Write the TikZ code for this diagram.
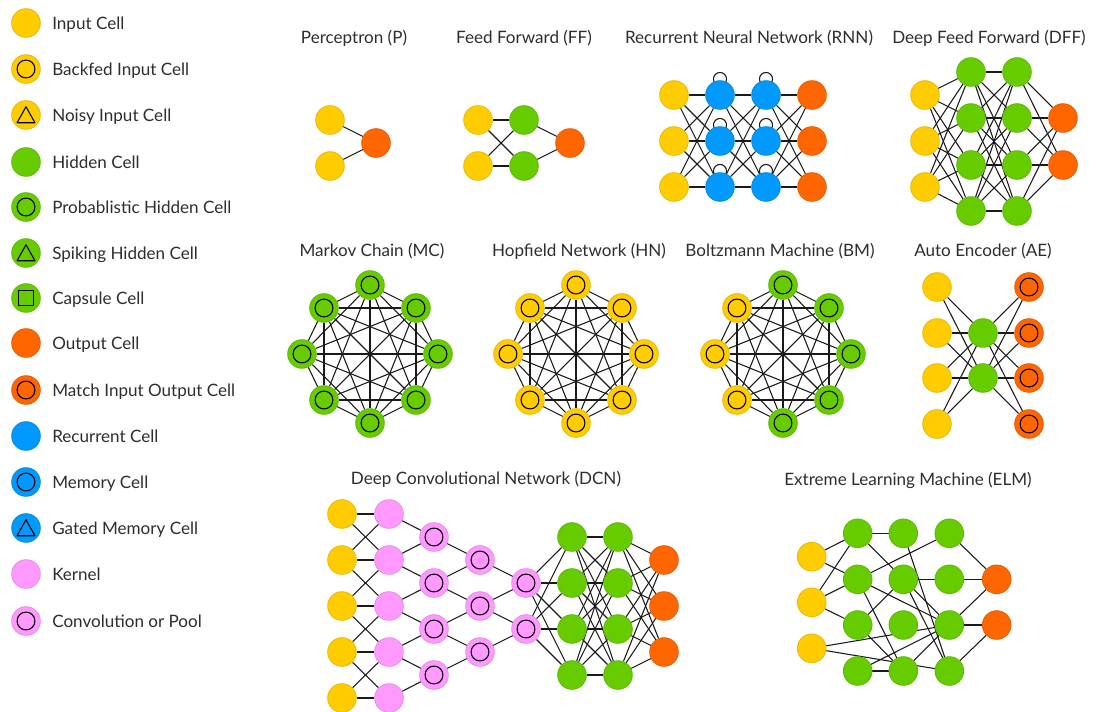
\documentclass[tikz,border=0pt]{standalone}
\usepackage{fontspec}
\setmainfont{Lato}
\usetikzlibrary{backgrounds}
\definecolor{cyel}{HTML}{FFCC00}
\definecolor{cyelD}{HTML}{E8BA00}
\definecolor{cgrn}{HTML}{66CC00}
\definecolor{cgrnD}{HTML}{5DBA00}
\definecolor{corg}{HTML}{FF6600}
\definecolor{corgD}{HTML}{E85D00}
\definecolor{cblu}{HTML}{0099FF}
\definecolor{cbluD}{HTML}{008BE8}
\definecolor{cpnk}{HTML}{FF99FF}
\definecolor{cpnkD}{HTML}{E88BE8}
\definecolor{ctxt}{HTML}{2E2E2E}
\definecolor{cline}{HTML}{1A1A1A}
\begin{document}
\begin{tikzpicture}[x=0.75pt,y=-0.75pt,
  cell/.style={circle,minimum size=21.5pt,inner sep=0pt,line width=0.6pt},
  ring/.style={path picture={\draw[black,line width=0.8pt] (path picture bounding box.center) circle[radius=6.7pt];}},
  tri/.style={path picture={\draw[black,line width=0.8pt,line join=round,shift={(path picture bounding box.center)}] (-6.7pt,-5.8pt) -- (6.7pt,-5.8pt) -- (0pt,6.2pt) -- cycle;}},
  sq/.style={path picture={\draw[black,line width=0.8pt,shift={(path picture bounding box.center)}] (-5.6pt,-5.6pt) rectangle (5.6pt,5.6pt);}},
  inc/.style={cell,fill=cyel,draw=cyelD},
  hid/.style={cell,fill=cgrn,draw=cgrnD},
  outc/.style={cell,fill=corg,draw=corgD},
  rec/.style={cell,fill=cblu,draw=cbluD},
  ker/.style={cell,fill=cpnk,draw=cpnkD},
  lbl/.style={anchor=base west,inner sep=0pt,text=ctxt,font=\fontsize{12.8}{15}\selectfont},
  ttl/.style={anchor=base,inner sep=0pt,text=ctxt,font=\fontsize{12.8}{15}\selectfont},
  conn/.style={draw=cline,line width=0.8pt}
]
\useasboundingbox (0,0) rectangle (1096,711);

% ---------------- legend ----------------
\node[inc] (lg1) at (26,23) {};
\node[lbl] (lt1) at (52,29.3) {Input Cell};
\node[inc,ring] (lg2) at (26,69) {};
\node[lbl] (lt2) at (52,75.3) {Backfed Input Cell};
\node[inc,tri] (lg3) at (26,115) {};
\node[lbl] (lt3) at (52,121.3) {Noisy Input Cell};
\node[hid] (lg4) at (26,162) {};
\node[lbl] (lt4) at (52,168.3) {Hidden Cell};
\node[hid,ring] (lg5) at (26,207) {};
\node[lbl] (lt5) at (52,213.3) {Probablistic Hidden Cell};
\node[hid,tri] (lg6) at (26,253) {};
\node[lbl] (lt6) at (52,259.3) {Spiking Hidden Cell};
\node[hid,sq] (lg7) at (26,298) {};
\node[lbl] (lt7) at (52,304.3) {Capsule Cell};
\node[outc] (lg8) at (26,343) {};
\node[lbl] (lt8) at (52,349.3) {Output Cell};
\node[outc,ring] (lg9) at (26,390) {};
\node[lbl] (lt9) at (52,396.3) {Match Input Output Cell};
\node[rec] (lg10) at (26,436) {};
\node[lbl] (lt10) at (52,442.3) {Recurrent Cell};
\node[rec,ring] (lg11) at (26,482) {};
\node[lbl] (lt11) at (52,488.3) {Memory Cell};
\node[rec,tri] (lg12) at (26,528) {};
\node[lbl] (lt12) at (52,534.3) {Gated Memory Cell};
\node[ker] (lg13) at (26,574) {};
\node[lbl] (lt13) at (52,580.3) {Kernel};
\node[ker,ring] (lg14) at (26,621) {};
\node[lbl] (lt14) at (52,627.3) {Convolution or Pool};

% ---------------- titles ----------------
\node[ttl] (tP) at (354,43.3) {Perceptron (P)};
\node[ttl] (tFF) at (524,43.3) {Feed Forward (FF)};
\node[ttl] (tRNN) at (749,43.3) {Recurrent Neural Network (RNN)};
\node[ttl] (tDFF) at (989,43.3) {Deep Feed Forward (DFF)};
\node[ttl] (tMC) at (372,256) {Markov Chain (MC)};
\node[ttl] (tHN) at (579,256) {Hopfield Network (HN)};
\node[ttl] (tBM) at (780,256) {Boltzmann Machine (BM)};
\node[ttl] (tAE) at (983,256.5) {Auto Encoder (AE)};
\node[ttl] (tDCN) at (486,484) {Deep Convolutional Network (DCN)};
\node[ttl] (tELM) at (908,485) {Extreme Learning Machine (ELM)};

% ---------------- perceptron ----------------
\node[inc] (pi1) at (330,120) {};
\node[inc] (pi2) at (330,166) {};
\node[outc] (po) at (376,143) {};

% ---------------- feed forward ----------------
\node[inc] (fi1) at (478,120) {};
\node[inc] (fi2) at (478,166) {};
\node[hid] (fh1) at (524,120) {};
\node[hid] (fh2) at (524,166) {};
\node[outc] (fo) at (570,143) {};

% ---------------- RNN ----------------
\foreach \i/\y in {1/95,2/141,3/187}{
  \node[inc] (ri\i) at (674,\y) {};
  \node[rec] (ra\i) at (720,\y) {};
  \node[rec] (rb\i) at (766,\y) {};
  \node[outc] (ro\i) at (812,\y) {};
}

% ---------------- DFF ----------------
\foreach \i/\y in {1/95,2/141,3/187}{ \node[inc] (di\i) at (925,\y) {}; }
\foreach \i/\y in {1/72,2/118,3/165,4/211}{
  \node[hid] (da\i) at (971,\y) {};
  \node[hid] (db\i) at (1017,\y) {};
}
\node[outc] (do1) at (1063,118) {};
\node[outc] (do2) at (1063,165) {};

% ---------------- MC / HN / BM ----------------
\foreach \i/\dx/\dy in {1/0/-69,2/46/-46,3/68/0,4/46/46,5/0/69,6/-46/46,7/-68/0,8/-46/-46}{
  \node[hid,ring] (mc\i) at (370+\dx,354+\dy) {};
  \node[inc,ring] (hn\i) at (576+\dx,354+\dy) {};
}
\foreach \i/\dx/\dy/\s in {1/0/-69/hid,2/46/-46/hid,3/68/0/hid,4/46/46/hid,5/0/69/hid,6/-46/46/inc,7/-68/0/inc,8/-46/-46/inc}{
  \node[\s,ring] (bm\i) at (783+\dx,354+\dy) {};
}

% ---------------- AE ----------------
\foreach \i/\y in {1/287,2/333,3/378,4/424}{
  \node[inc] (ai\i) at (937,\y) {};
  \node[outc,ring] (ao\i) at (1029,\y) {};
}
\node[hid] (ah1) at (983,333) {};
\node[hid] (ah2) at (983,378) {};

% ---------------- DCN ----------------
\foreach \i/\y in {1/514,2/560,3/606,4/652,5/698}{
  \node[inc] (ci\i) at (342,\y) {};
  \node[ker] (ck\i) at (389,\y) {};
}
\foreach \i/\y in {1/537,2/583,3/629,4/675}{
  \node[ker,ring] (cp\i) at (434,\y) {};
  \node[hid] (ch\i) at (572,\y) {};
  \node[hid] (cg\i) at (618,\y) {};
}
\foreach \i/\y in {1/560,2/606,3/652}{
  \node[ker,ring] (cq\i) at (480,\y) {};
  \node[outc] (co\i) at (664,\y) {};
}
\node[ker,ring] (cr1) at (526,583) {};
\node[ker,ring] (cr2) at (526,629) {};

% ---------------- ELM ----------------
\node[inc] (ei1) at (811.7,556.7) {};
\node[inc] (ei2) at (811.7,602.3) {};
\node[inc] (ei3) at (811.7,648.3) {};
\foreach \c/\x in {1/857.7,2/903.3,3/949.3}{
  \foreach \r/\y in {a/533.3,b/579.3,c/625,d/671}{
    \node[hid] (e\c\r) at (\x,\y) {};
  }
}
\node[outc] (eo1) at (996.7,579.3) {};
\node[outc] (eo2) at (996.7,625) {};

% ---------------- connectors ----------------
\begin{pgfonlayer}{background}
\fill[white] (0,0) rectangle (1096,711);
% perceptron
\draw[conn] (pi1) -- (po);
\draw[conn] (pi2) -- (po);
% FF
\foreach \i in {1,2}{ \foreach \j in {1,2}{ \draw[conn] (fi\i) -- (fh\j); } \draw[conn] (fh\i) -- (fo); }
% RNN
\foreach \a/\b in {ri/ra,ra/rb,rb/ro}{
  \foreach \i in {1,2,3}{ \foreach \j in {1,2,3}{ \draw[conn] (\a\i) -- (\b\j); } }
}
\foreach \i in {1,2,3}{
  \draw[conn] ([yshift=12pt]ra\i.center) circle[radius=4.9pt];
  \draw[conn] ([yshift=12pt]rb\i.center) circle[radius=4.9pt];
}
% DFF
\foreach \i in {1,2,3}{ \foreach \j in {1,...,4}{ \draw[conn] (di\i) -- (da\j); } }
\foreach \i in {1,...,4}{ \foreach \j in {1,...,4}{ \draw[conn] (da\i) -- (db\j); } }
\foreach \i in {1,...,4}{ \foreach \j in {1,2}{ \draw[conn] (db\i) -- (do\j); } }
% complete graphs
\foreach \p in {mc,hn,bm}{
  \foreach \i in {1,...,7}{
    \pgfmathtruncatemacro\k{\i+1}
    \foreach \j in {\k,...,8}{ \draw[conn] (\p\i) -- (\p\j); }
  }
}
% AE
\foreach \i in {1,...,4}{ \foreach \j in {1,2}{ \draw[conn] (ai\i) -- (ah\j); \draw[conn] (ah\j) -- (ao\i); } }
% DCN
\foreach \i in {1,...,5}{ \draw[conn] (ci\i) -- (ck\i); }
\foreach \i in {1,...,4}{
  \pgfmathtruncatemacro\k{\i+1}
  \draw[conn] (ci\i) -- (ck\k);
  \draw[conn] (ck\i) -- (ci\k);
  \draw[conn] (cp\i) -- (ck\i);
  \draw[conn] (cp\i) -- (ck\k);
}
\foreach \i in {1,2,3}{
  \pgfmathtruncatemacro\k{\i+1}
  \draw[conn] (cq\i) -- (cp\i);
  \draw[conn] (cq\i) -- (cp\k);
}
\foreach \i in {1,2}{
  \pgfmathtruncatemacro\k{\i+1}
  \draw[conn] (cr\i) -- (cq\i);
  \draw[conn] (cr\i) -- (cq\k);
  \foreach \j in {1,...,4}{ \draw[conn] (cr\i) -- (ch\j); }
}
\foreach \i in {1,...,4}{
  \foreach \j in {1,...,4}{ \draw[conn] (ch\i) -- (cg\j); }
  \foreach \j in {1,2,3}{ \draw[conn] (cg\i) -- (co\j); }
}
% ELM
\foreach \a/\b in {ei1/e1a,ei1/e1b,ei2/e1a,ei2/e1b,ei2/e1c,ei3/e3c,ei3/e3d,
  e1a/e2a,e1a/e3c,e1b/e3a,e1b/e3c,e1b/e2d,e1c/e2b,e1c/e2d,e1d/e2d,e1d/e3c,
  e2a/e3d,e2b/e3b,e2b/e3d,e2d/e3c,
  e3a/eo1,e3b/eo1,e3c/eo1,e3c/eo2,e3d/eo2}{
  \draw[conn] (\a) -- (\b);
}
\end{pgfonlayer}
\end{tikzpicture}
\end{document}
